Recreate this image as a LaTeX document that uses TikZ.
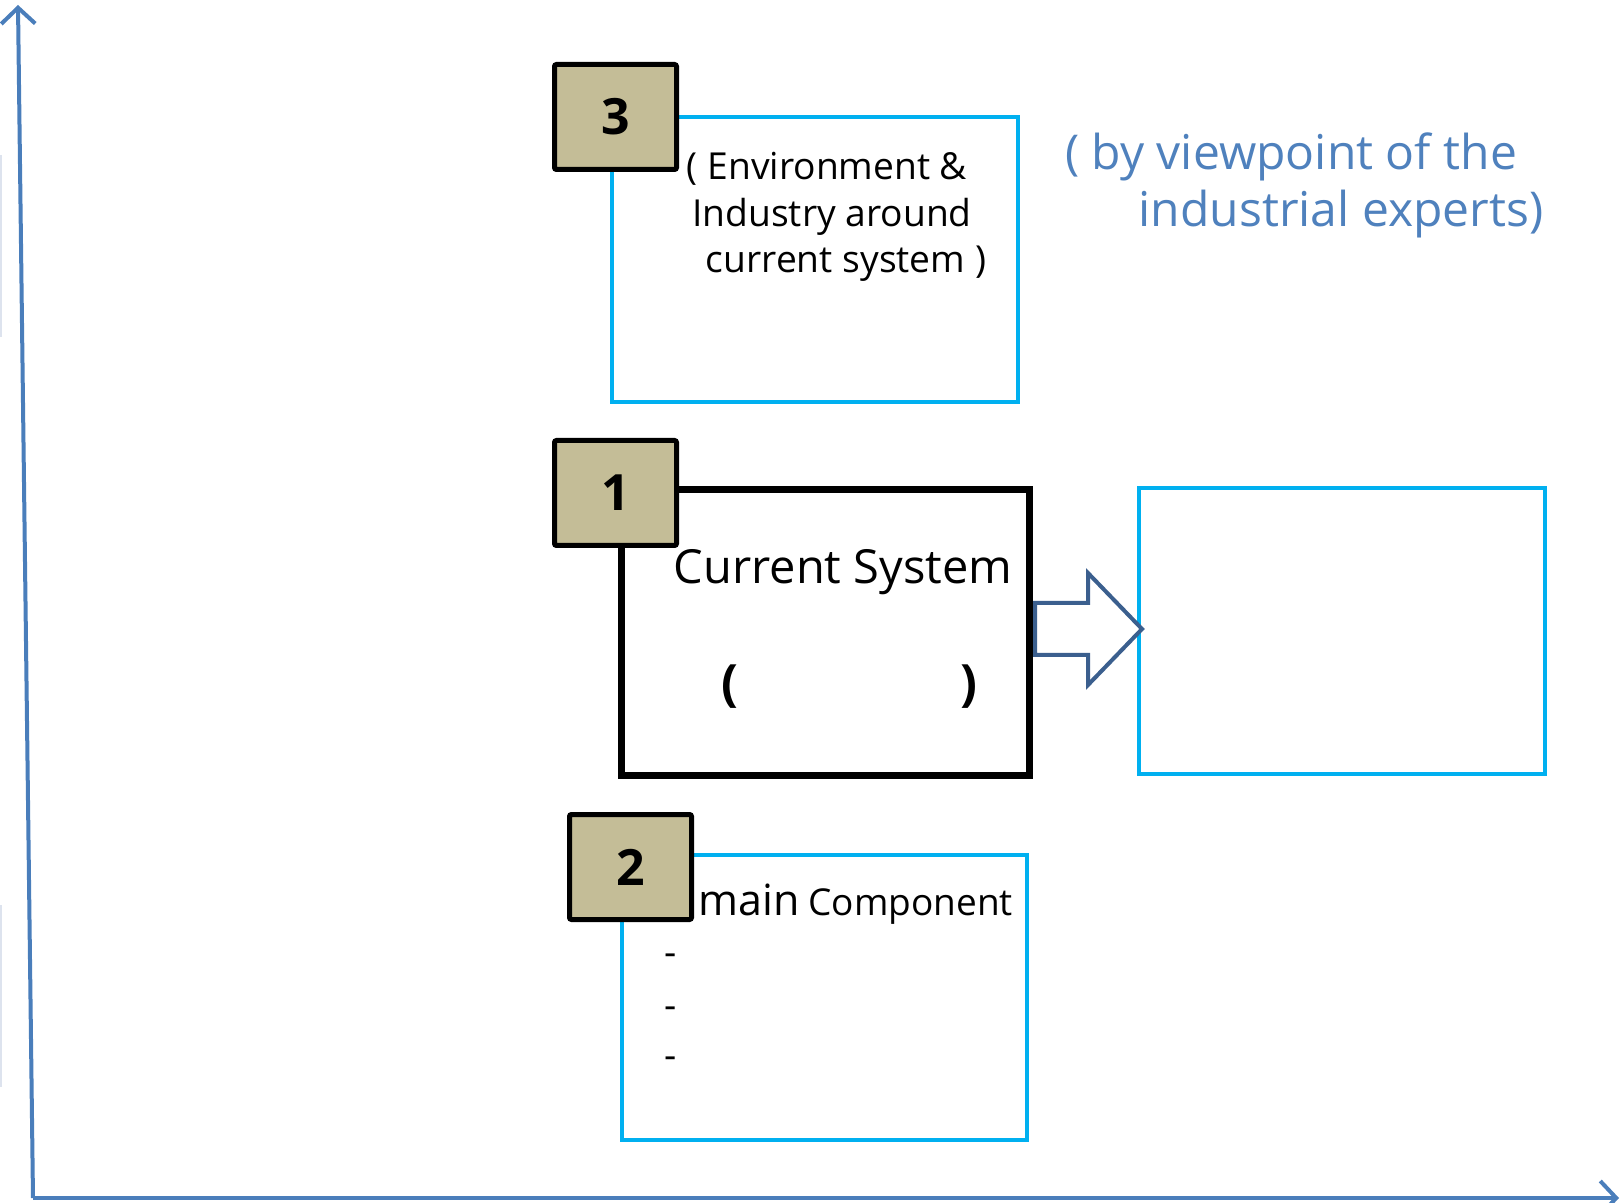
\documentclass[tikz,border=0pt]{standalone}
\usepackage{fontspec}
\setmainfont{Open Sans}
\usetikzlibrary{arrows.meta}
\definecolor{axisblue}{HTML}{4A7EBB}
\definecolor{boxcyan}{HTML}{00B0F0}
\definecolor{badgetan}{HTML}{C4BD97}
\definecolor{arrowblue}{HTML}{3B5F8E}
\definecolor{noteblue}{HTML}{4F81BD}
\definecolor{faintline}{HTML}{DDE3EE}
\begin{document}
\begin{tikzpicture}[x=0.5pt,y=-0.5pt,
  cyanbox/.style={draw=boxcyan,line width=2pt,inner sep=0pt,anchor=north west},
  blackbox/.style={draw=black,line width=3.3pt,inner sep=0pt,anchor=north west},
  badge/.style={draw=black,line width=2.5pt,fill=badgetan,rounded corners=1pt,inner sep=0pt,
    minimum width=61pt,minimum height=52.5pt,anchor=north west,font=\fontsize{25}{30}\selectfont\bfseries},
  axis/.style={draw=axisblue,line width=2pt,-{Straight Barb[length=8pt,width=17pt,line width=2pt]}},
  bodytext/.style={anchor=base,inner sep=0pt,text=black},
  notetext/.style={anchor=base,inner sep=0pt,text=noteblue,font=\fontsize{24}{28}\selectfont},
  blockarrow/.style={draw=arrowblue,line width=2pt,fill=white,line join=miter}
]
\useasboundingbox (0,0) rectangle (1624,1203);

% faint marks at left edge
\draw[faintline,line width=0.6pt] (1,155) -- (1,337);
\draw[faintline,line width=0.6pt] (1,905) -- (1,1087);

% axes
\coordinate (origin) at (33,1198);
\coordinate (ytop) at (18,5);
\coordinate (xend) at (1619,1198);
\draw[axis] (origin) -- (ytop);
\draw[axis] (origin) -- (xend);

% box 3
\node[cyanbox,minimum width=203pt,minimum height=142.5pt] (b3) at (610,115) {};
\node[badge] (n3) at (552,62) {3};
\node[bodytext,font=\fontsize{18.6}{22}\selectfont] (t3a) at (827,180) {( Environment \&};
\node[bodytext,font=\fontsize{18.6}{22}\selectfont] (t3b) at (832,227) {Industry around};
\node[bodytext,font=\fontsize{18.6}{22}\selectfont] (t3c) at (846,273) {current system )};

% note
\node[notetext] (note1) at (1291,170) {( by viewpoint of the};
\node[notetext] (note2) at (1341,227) {industrial experts)};

% box 1
\node[blackbox,minimum width=204pt,minimum height=143pt] (b1) at (618,486) {};
\node[badge] (n1) at (552,438) {1};
\node[bodytext,font=\fontsize{23.5}{28}\selectfont] (cs) at (843,584) {Current System};
\node[inner sep=0pt,font=\fontsize{25}{30}\selectfont\bfseries] (pl) at (730,687) {(};
\node[inner sep=0pt,font=\fontsize{25}{30}\selectfont\bfseries] (pr) at (969,687) {)};

% right box
\node[cyanbox,minimum width=203pt,minimum height=143pt] (br) at (1137,486) {};

% block arrow
\draw[blockarrow] (1035,603) -- (1088,603) -- (1088,573) -- (1142,629) -- (1088,685) -- (1088,655) -- (1035,655) -- cycle;

% box 2
\node[cyanbox,minimum width=202.5pt,minimum height=142.5pt] (b2) at (620,853) {};
\node[badge] (n2) at (567,812) {2};
\node[anchor=base west,inner sep=0pt,font=\fontsize{21.5}{26}\selectfont] (mn) at (698,915) {main};
\node[anchor=base west,inner sep=0pt,font=\fontsize{18.5}{22}\selectfont] (comp) at (808,915) {Component};
\node[inner sep=0pt,font=\fontsize{19}{22}\selectfont] (d1) at (671,960) {-};
\node[inner sep=0pt,font=\fontsize{19}{22}\selectfont] (d2) at (671,1013) {-};
\node[inner sep=0pt,font=\fontsize{19}{22}\selectfont] (d3) at (671,1063) {-};
\end{tikzpicture}
\end{document}
